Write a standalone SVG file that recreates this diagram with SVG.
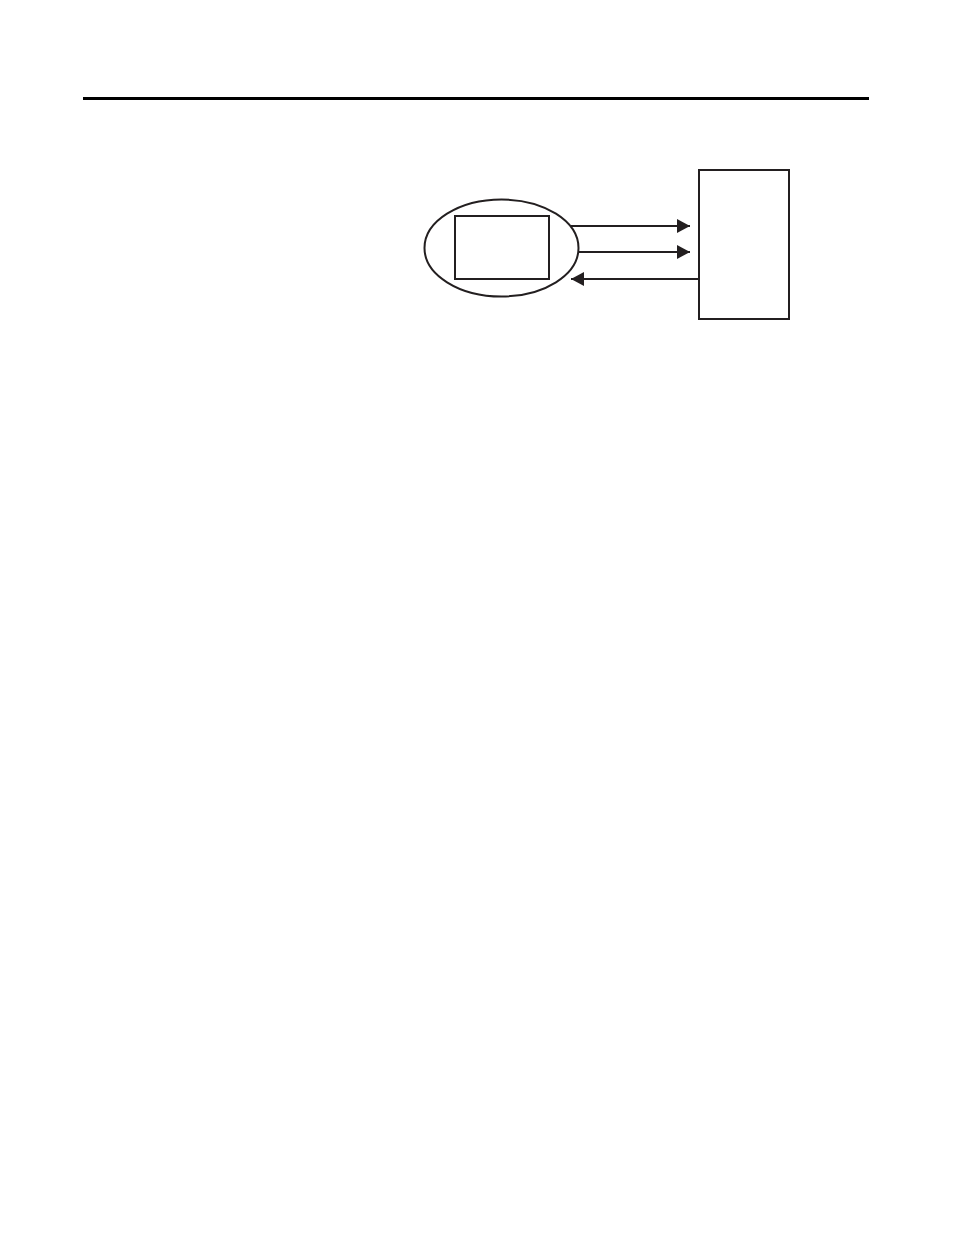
<svg xmlns="http://www.w3.org/2000/svg" width="954" height="1235" viewBox="0 0 954 1235">
<style>
.s{fill:none;stroke:#231f20;stroke-width:2}
.c{stroke:#231f20;stroke-width:2;fill:none}
</style>
<defs>
<marker id="ah" viewBox="0 0 13 14" refX="13" refY="7" markerWidth="13" markerHeight="14" markerUnits="userSpaceOnUse" orient="auto">
<path d="M0,0 L13,7 L0,14 Z" fill="#231f20"/>
</marker>
</defs>
<rect width="954" height="1235" fill="#fff"/>
<line x1="83" y1="98.5" x2="869" y2="98.5" stroke="#000" stroke-width="3"/>
<g id="ellipse-node">
<ellipse class="s" cx="501.5" cy="248" rx="77" ry="48.5"/>
</g>
<g id="inner-box">
<rect class="s" x="455" y="216" width="94" height="63"/>
</g>
<g id="right-box">
<rect class="s" x="699" y="170" width="90" height="149"/>
</g>
<g id="connectors">
<line class="c" x1="571" y1="226" x2="690" y2="226" marker-end="url(#ah)"/>
<line class="c" x1="578" y1="252" x2="690" y2="252" marker-end="url(#ah)"/>
<line class="c" x1="698" y1="279" x2="571" y2="279" marker-end="url(#ah)"/>
</g>
</svg>
